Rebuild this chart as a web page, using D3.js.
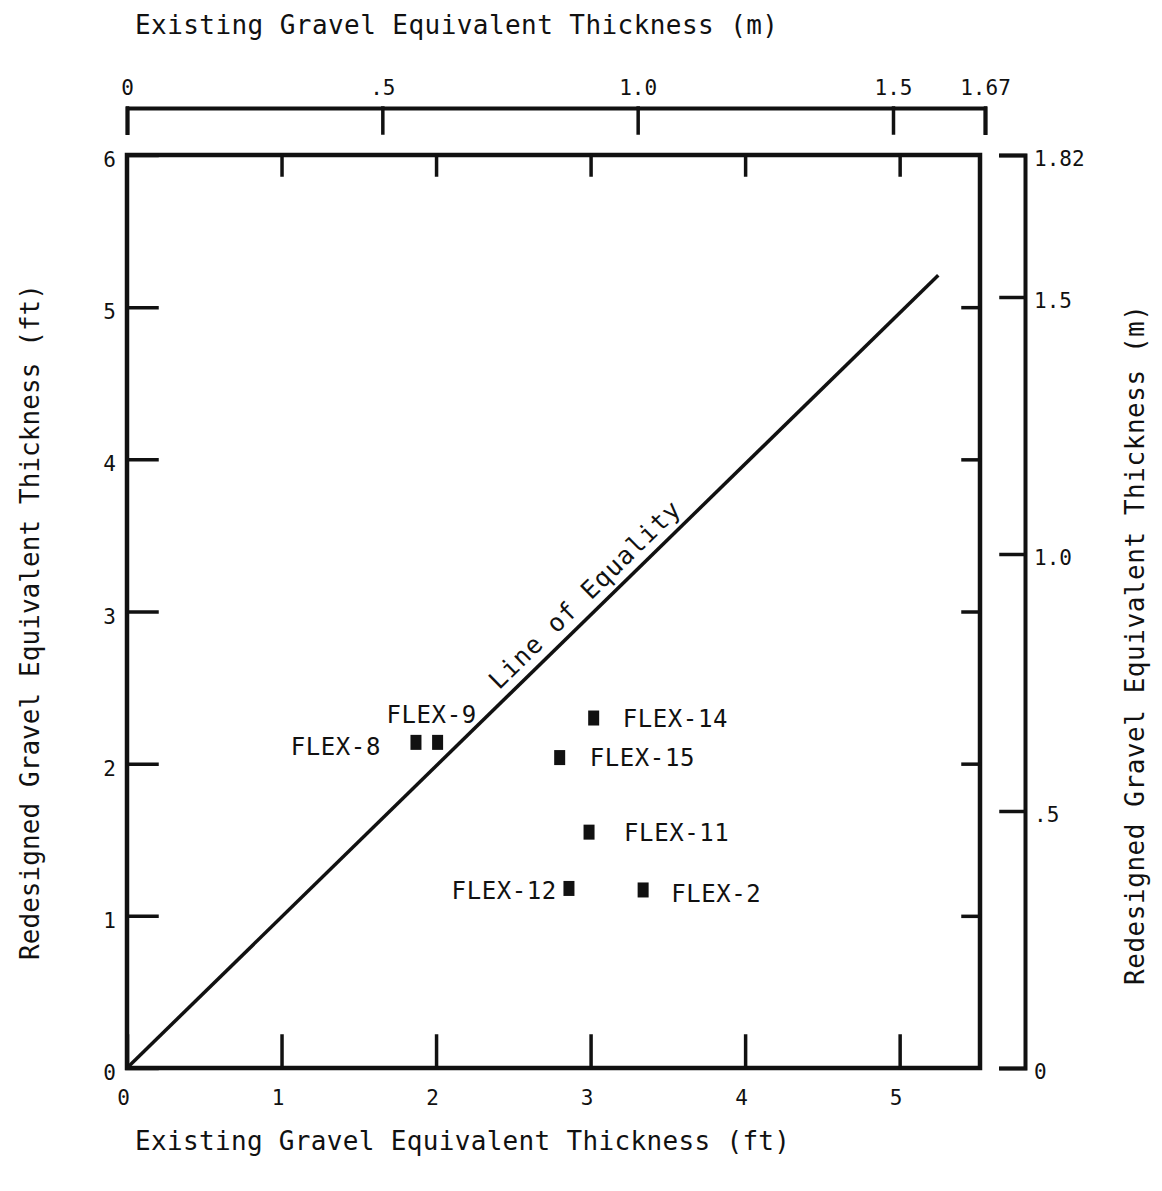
<!DOCTYPE html>
<html>
<head>
<meta charset="utf-8">
<script src="https://cdn.jsdelivr.net/npm/d3@7"></script>
<style>
  body { margin: 0; background: #fff; }
  text { font-family: "DejaVu Sans Mono", monospace; fill: #111; }
  .axis path, .axis line { stroke: #111; stroke-width: 3.5; stroke-linecap: square; }
  .axis .domain { stroke-width: 4; }
</style>
</head>
<body>
<script>
// data
var sections     = ["FLEX-8", "FLEX-9", "FLEX-14", "FLEX-15", "FLEX-11", "FLEX-12", "FLEX-2"];
var existingFt   = [1.87, 2.01, 3.02, 2.80, 2.99, 2.86, 3.34];
var redesignedFt = [2.14, 2.14, 2.30, 2.04, 1.55, 1.18, 1.17];
var equalityLine = [[0, 0], [5.25, 5.21]];

var xFtTicks  = [0, 1, 2, 3, 4, 5];
var yFtTicks  = [0, 1, 2, 3, 4, 5, 6];
var topMTicks = [0, 0.5, 1.0, 1.5, 1.67];
var topMLabels = ["0", ".5", "1.0", "1.5", "1.67"];
var rightMTicks = [0, 0.5, 1.0, 1.5, 1.82];
var rightMLabels = ["0", ".5", "1.0", "1.5", "1.82"];

// set the dimensions and margins of the graph
var margin = {top: 155, right: 182, bottom: 123, left: 127},
    width = 1162 - margin.left - margin.right,
    height = 1191 - margin.top - margin.bottom;

var x = d3.scaleLinear().domain([0, 5.52]).range([0, width]);
var y = d3.scaleLinear().domain([0, 6]).range([height, 0]);
// metric scales as drafted on the original sheet
var xm = d3.scaleLinear().domain([0, 1.5, 1.67]).range([0, 766, 858]);
var ym = d3.scaleLinear().domain([0, 1.5, 1.82]).range([height, 142, 0]);

var svg = d3.select("body").append("svg")
    .attr("width", 1162)
    .attr("height", 1191);

var g = svg.append("g")
    .attr("transform", "translate(" + margin.left + "," + margin.top + ")");

// frame
g.append("rect")
    .attr("width", width).attr("height", height)
    .attr("fill", "none").attr("stroke", "#111").attr("stroke-width", 4.5);

// bottom axis (ft)
var bx = g.append("g").attr("class", "axis")
    .attr("transform", "translate(0," + height + ")")
    .call(d3.axisBottom(x).tickValues(xFtTicks).tickSize(-32).tickSizeOuter(0).tickPadding(22)
        .tickFormat(d3.format("d")));
bx.select(".domain").remove();
bx.selectAll("text").attr("dx", -4).style("font-size", "21px");

// left axis (ft)
var ly = g.append("g").attr("class", "axis")
    .call(d3.axisLeft(y).tickValues(yFtTicks).tickSize(-30).tickSizeOuter(0).tickPadding(11)
        .tickFormat(d3.format("d")));
ly.select(".domain").remove();
ly.selectAll("text").attr("dy", "0.55em").style("font-size", "21px");

// inner ticks along top and right of the frame
var tx = g.append("g").attr("class", "axis")
    .call(d3.axisTop(x).tickValues(xFtTicks.slice(1)).tickSize(-20).tickFormat(""));
tx.select(".domain").remove();
var ry = g.append("g").attr("class", "axis")
    .attr("transform", "translate(" + width + ",0)")
    .call(d3.axisRight(y).tickValues(yFtTicks.slice(1, 6)).tickSize(-17).tickFormat(""));
ry.select(".domain").remove();

// top metric axis
var mx = g.append("g").attr("class", "axis")
    .attr("transform", "translate(0,-47)")
    .call(d3.axisTop(xm).tickValues(topMTicks).tickSize(-25).tickSizeOuter(-25).tickPadding(13)
        .tickFormat(function(d, i) { return topMLabels[i]; }));
mx.selectAll("text").style("font-size", "21px");

// right metric axis
var my = g.append("g").attr("class", "axis")
    .attr("transform", "translate(" + (width + 45) + ",0)")
    .call(d3.axisRight(ym).tickValues(rightMTicks).tickSize(-24).tickSizeOuter(-24).tickPadding(9)
        .tickFormat(function(d, i) { return rightMLabels[i]; }));
my.selectAll("text").attr("dy", "0.5em").style("font-size", "21px");

// line of equality
g.append("path")
    .datum(equalityLine)
    .attr("fill", "none").attr("stroke", "#111").attr("stroke-width", 3.5)
    .attr("d", d3.line().x(function(d) { return x(d[0]); }).y(function(d) { return y(d[1]); }));

var p0 = equalityLine[0], p1 = equalityLine[1];
var ang = Math.atan2(y(p1[1]) - y(p0[1]), x(p1[0]) - x(p0[0])) * 180 / Math.PI;
var tPos = 0.58;
g.append("text")
    .attr("transform", "translate(" + (x(p0[0]) + tPos * (x(p1[0]) - x(p0[0]))) + "," +
        (y(p0[1]) + tPos * (y(p1[1]) - y(p0[1]))) + ") rotate(" + ang + ")")
    .attr("text-anchor", "middle")
    .attr("dy", -10)
    .style("font-size", "25px")
    .attr("textLength", 256).attr("lengthAdjust", "spacing")
    .text("Line of Equality");

// points
g.selectAll("rect.pt")
    .data(sections)
    .enter().append("rect")
    .attr("class", "pt")
    .attr("x", function(d, i) { return x(existingFt[i]) - 5.5; })
    .attr("y", function(d, i) { return y(redesignedFt[i]) - 7.5; })
    .attr("width", 11).attr("height", 15)
    .attr("fill", "#111");

// label placement: [dx, dy, anchor]
var labelPlace = [[-35, 4, "end"], [-6, -28, "middle"], [29, 0, "start"], [30, 0, "start"],
                  [35, 0, "start"], [-12, 2, "end"], [28, 3, "start"]];
g.selectAll("text.lbl")
    .data(sections)
    .enter().append("text")
    .attr("class", "lbl")
    .attr("x", function(d, i) { return x(existingFt[i]) + labelPlace[i][0]; })
    .attr("y", function(d, i) { return y(redesignedFt[i]) + labelPlace[i][1]; })
    .attr("dy", "0.36em")
    .attr("text-anchor", function(d, i) { return labelPlace[i][2]; })
    .style("font-size", "24px")
    .style("letter-spacing", "0.6px")
    .text(function(d) { return d; });

// axis titles
svg.append("text")
    .attr("x", 135).attr("y", 34)
    .style("font-size", "26px")
    .attr("textLength", 643).attr("lengthAdjust", "spacing")
    .text("Existing Gravel Equivalent Thickness (m)");

svg.append("text")
    .attr("x", 135).attr("y", 1150)
    .style("font-size", "26px")
    .attr("textLength", 655).attr("lengthAdjust", "spacing")
    .text("Existing Gravel Equivalent Thickness (ft)");

svg.append("text")
    .attr("transform", "translate(39,960) rotate(-90)")
    .style("font-size", "26px")
    .attr("textLength", 676).attr("lengthAdjust", "spacing")
    .text("Redesigned Gravel Equivalent Thickness (ft)");

svg.append("text")
    .attr("transform", "translate(1144,985) rotate(-90)")
    .style("font-size", "26px")
    .attr("textLength", 680).attr("lengthAdjust", "spacing")
    .text("Redesigned Gravel Equivalent Thickness (m)");
</script>
</body>
</html>
